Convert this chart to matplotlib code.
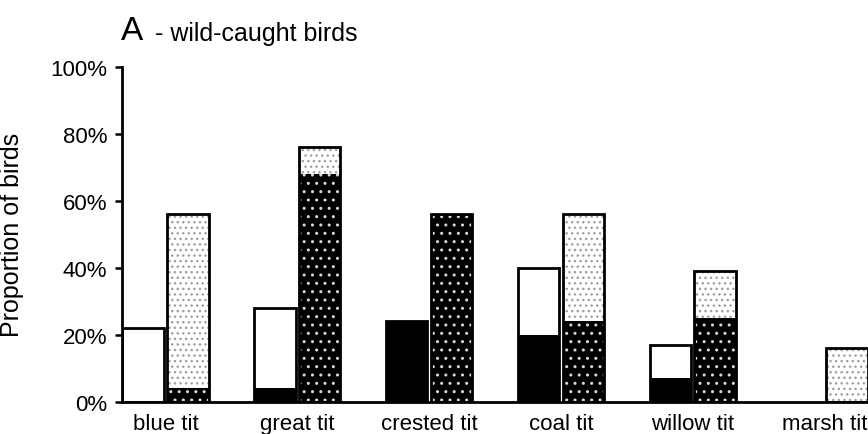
import matplotlib
matplotlib.use("Agg")
import matplotlib.pyplot as plt
import numpy as np

plt.rcParams['font.family'] = ['Liberation Sans', 'DejaVu Sans']

categories = ["blue tit", "great tit", "crested tit", "coal tit", "willow tit", "marsh tit"]
first_black = [0, 4, 24, 20, 7, 0]
first_white = [22, 24, 0, 20, 10, 0]
second_dark = [4, 68, 56, 24, 25, 0]
second_light = [52, 8, 0, 32, 14, 16]
yticks = [0, 20, 40, 60, 80, 100]
ytick_labels = ["0%", "20%", "40%", "60%", "80%", "100%"]

fig = plt.figure(figsize=(8.68, 4.35), dpi=100)
ax = fig.add_axes([0.1406, 0.0743, 1 - 0.1406, 0.7701])

x = np.arange(len(categories))
w = 0.315
off = 0.17
plt.rcParams['hatch.linewidth'] = 1.0

fb = np.array(first_black, dtype=float)
fw = np.array(first_white, dtype=float)
sd = np.array(second_dark, dtype=float)
sl = np.array(second_light, dtype=float)

# first bar: black bottom, white top
ax.bar(x - off, fb, w, color='black', linewidth=0, zorder=2)
ax.bar(x - off, fw, w, bottom=fb, color='white', linewidth=0, zorder=2)
tot1 = fb + fw
m1 = tot1 > 0
ax.bar((x - off)[m1], tot1[m1], w, fill=False, edgecolor='black', linewidth=2.0, zorder=3)

# second bar: dark dotted bottom, light dotted top
ax.bar(x + off, sd, w, facecolor='black', edgecolor='#d8d8d8', hatch='..', linewidth=0, zorder=2)
ax.bar(x + off, sl, w, bottom=sd, facecolor='white', edgecolor='#a0a0a0', hatch='...', linewidth=0, zorder=2)
tot2 = sd + sl
m2 = tot2 > 0
ax.bar((x + off)[m2], tot2[m2], w, fill=False, edgecolor='black', linewidth=2.0, zorder=3)

ax.set_xlim(-0.33, 5.33)
ax.set_ylim(0, 100)
ax.set_yticks(yticks)
ax.set_yticklabels(ytick_labels, fontsize=16)
ax.set_xticks(x)
ax.set_xticklabels(categories, fontsize=16)
ax.tick_params(axis='x', length=0, pad=8)
ax.tick_params(axis='y', length=5, width=1.8, pad=5.5, direction='out')
for s in ['top', 'right']:
    ax.spines[s].set_visible(False)
for s in ['left', 'bottom']:
    ax.spines[s].set_linewidth(2.0)
    ax.spines[s].set_zorder(4)

ax.set_ylabel("Proportion of birds", fontsize=18)
ax.yaxis.set_label_coords(-0.131, 0.5)

fig.text(121 / 868, 1 - 40.5 / 435, "A", fontsize=24, va='baseline', ha='left')
fig.text(155 / 868, 1 - 40.5 / 435, "- wild-caught birds", fontsize=18, va='baseline', ha='left')

fig.savefig("out.png", dpi=100)
